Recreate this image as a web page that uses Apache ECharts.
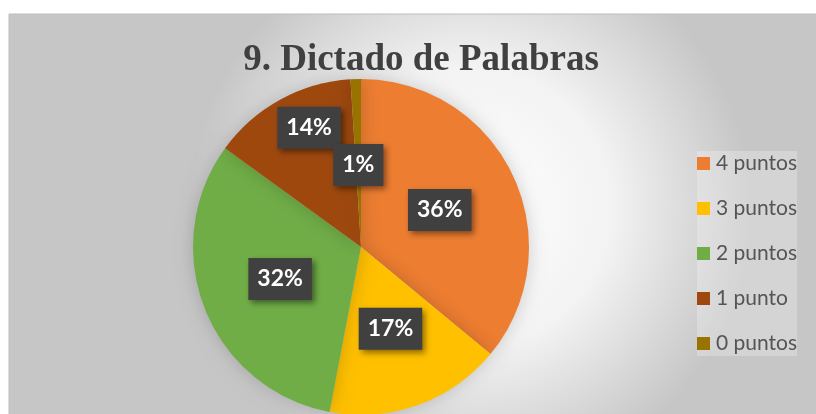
<!DOCTYPE html>
<html>
<head>
<meta charset="utf-8">
<script src="https://cdn.jsdelivr.net/npm/echarts@6/dist/echarts.min.js"></script>
<style>
  html, body { margin: 0; padding: 0; background: #fff; }
  #main { width: 816px; height: 414px; }
</style>
</head>
<body>
<div id="main"></div>
<script>
const categories = ["4 puntos", "3 puntos", "2 puntos", "1 punto", "0 puntos"];
const values = [36, 17, 32, 14, 1];
const colors = ["#ED7D31", "#FFC000", "#70AD47", "#9E480E", "#997300"];

const chart = echarts.init(document.getElementById("main"));

const option = {
  animation: false,
  color: colors,
  graphic: [
    {
      type: "rect",
      z: -10,
      shape: { x: 9, y: 14, width: 840, height: 430 },
      style: {
        fill: new echarts.graphic.RadialGradient(0.55, 0.45, 0.65, [
          { offset: 0, color: "#ffffff" },
          { offset: 0.5, color: "#f3f3f3" },
          { offset: 1, color: "#c6c6c6" },
        ]),
        stroke: "#bdbdbd",
        lineWidth: 1,
      },
    },
  ],
  title: {
    text: "9. Dictado de Palabras",
    left: 416,
    textAlign: "center",
    top: 37,
    textStyle: {
      fontFamily: "Liberation Serif",
      fontWeight: "bold",
      fontSize: 37,
      color: "#404040",
    },
  },
  legend: {
    orient: "vertical",
    left: 697,
    top: 151,
    itemWidth: 13,
    itemHeight: 13,
    itemGap: 20,
    icon: "rect",
    backgroundColor: "rgba(255,255,255,0.25)",
    padding: [0, 0, 0, 0],
    textStyle: {
      fontFamily: "Lato",
      fontSize: 21,
      lineHeight: 25,
      color: "#555555",
      padding: [0, 0, 0, 1],
    },
    data: categories,
  },
  series: [
    {
      type: "pie",
      center: [361, 247],
      radius: 168,
      startAngle: 90,
      clockwise: true,
      itemStyle: {
        shadowColor: "rgba(0,0,0,0.18)",
        shadowBlur: 18,
      },
      label: {
        position: "inside",
        formatter: "{d}%",
        fontFamily: "Lato",
        fontWeight: "bold",
        fontSize: 23,
        color: "#ffffff",
        backgroundColor: "#404040",
        padding: [10, 9, 9, 9],
        shadowColor: "rgba(0,0,0,0.45)",
        shadowBlur: 6,
        shadowOffsetX: 3,
        shadowOffsetY: 3,
      },
      labelLayout: function (params) {
        if (params.dataIndex === 3) {
          return { dx: -10, dy: -43 };
        }
        if (params.dataIndex === 4) {
          return { dy: 5 };
        }
        return {};
      },
      emphasis: { disabled: true },
      data: categories.map(function (name, i) {
        return { name: name, value: values[i] };
      }),
    },
  ],
};

chart.setOption(option);
</script>
</body>
</html>
